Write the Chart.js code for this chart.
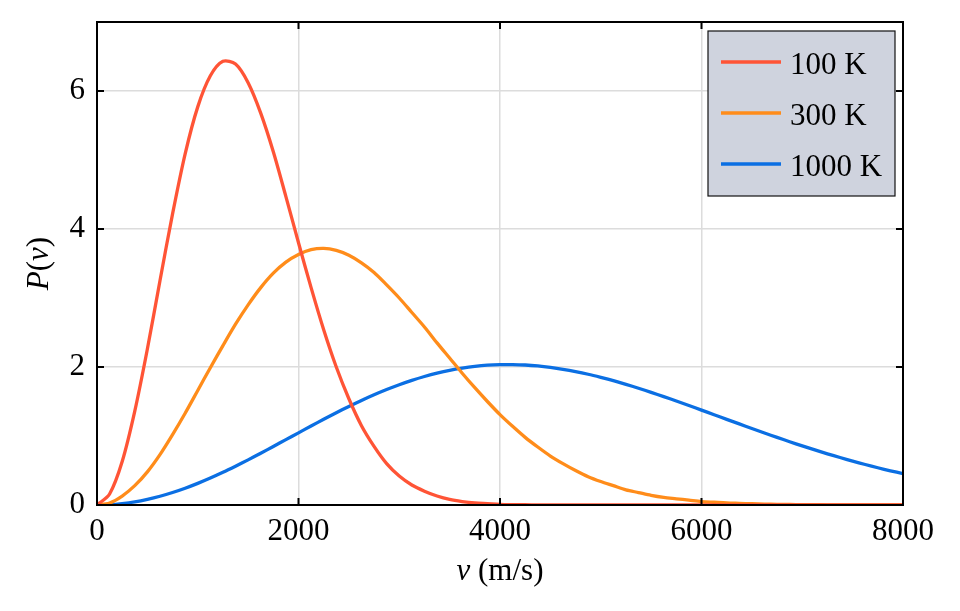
<!DOCTYPE html>
<html>
<head>
<meta charset="utf-8">
<script src="https://cdn.jsdelivr.net/npm/chart.js@4/dist/chart.umd.min.js"></script>
<style>
  html, body { margin: 0; padding: 0; background: #fff; }
  #wrap { width: 960px; height: 611px; }
</style>
</head>
<body>
<div id="wrap"><canvas id="mbChart" width="960" height="611"></canvas></div>
<script>
// speeds in m/s, P(v) (scale of the y axis)
const speeds = [0, 125, 250, 375, 500, 625, 750, 875, 1000, 1125, 1250, 1375, 1500, 1625, 1750, 1875,
    2000, 2125, 2250, 2375, 2500, 2625, 2750, 2875, 3000, 3125, 3250, 3375, 3500, 3625, 3750, 3875,
    4000, 4125, 4250, 4375, 4500, 4625, 4750, 4875, 5000, 5125, 5250, 5375, 5500, 5625, 5750, 5875,
    6000, 6125, 6250, 6375, 6500, 6625, 6750, 6875, 7000, 7125, 7250, 7375, 7500, 7625, 7750, 7875, 8000];
const p100 = [0, 0.16, 0.63, 1.36, 2.26, 3.25, 4.22, 5.09, 5.77, 6.22, 6.43, 6.39, 6.12, 5.68, 5.12, 4.47,
    3.80, 3.15, 2.54, 2.00, 1.54, 1.15, 0.85, 0.60, 0.42, 0.29, 0.20, 0.13, 0.08, 0.05, 0.03, 0.02,
    0.01, 0.006, 0.004, 0.002, 0.001, 0, 0, 0, 0, 0, 0, 0, 0, 0, 0, 0,
    0, 0, 0, 0, 0, 0, 0, 0, 0, 0, 0, 0, 0, 0, 0, 0, 0];
const p300 = [0, 0.03, 0.13, 0.28, 0.48, 0.73, 1.02, 1.33, 1.66, 1.99, 2.31, 2.62, 2.90, 3.15, 3.36, 3.52,
    3.63, 3.70, 3.72, 3.69, 3.62, 3.51, 3.37, 3.19, 3.00, 2.79, 2.58, 2.35, 2.13, 1.91, 1.70, 1.50,
    1.31, 1.14, 0.98, 0.84, 0.71, 0.60, 0.50, 0.41, 0.34, 0.28, 0.22, 0.18, 0.14, 0.11, 0.09, 0.07,
    0.05, 0.04, 0.03, 0.024, 0.018, 0.013, 0.010, 0.007, 0.005, 0.004, 0.003, 0.002, 0.001, 0.001, 0, 0, 0];
const p1000 = [0, 0.005, 0.021, 0.046, 0.082, 0.127, 0.181, 0.243, 0.313, 0.390, 0.473, 0.562, 0.654, 0.750, 0.848, 0.947,
    1.046, 1.145, 1.242, 1.337, 1.428, 1.515, 1.597, 1.673, 1.743, 1.806, 1.862, 1.911, 1.952, 1.984, 2.009, 2.026,
    2.034, 2.035, 2.029, 2.015, 1.994, 1.967, 1.934, 1.895, 1.850, 1.802, 1.749, 1.692, 1.633, 1.571, 1.507, 1.442,
    1.375, 1.309, 1.241, 1.175, 1.108, 1.043, 0.980, 0.917, 0.857, 0.798, 0.742, 0.688, 0.636, 0.587, 0.540, 0.496, 0.454];
const seriesLabels = ['100 K', '300 K', '1000 K'];
const seriesColors = ['#ff5436', '#ff8c1a', '#0b6fe3'];
const xTicks = [0, 2000, 4000, 6000, 8000];
const yTicks = [0, 2, 4, 6];

const FONT = '"Liberation Serif", "DejaVu Serif", serif';

function toPoints(ys) {
    return speeds.map((v, i) => ({ x: v, y: ys[i] }));
}

// draws mixed italic / upright text pieces one after another
function drawRich(ctx, parts, x, y, size) {
    let total = 0;
    parts.forEach(p => {
        ctx.font = (p.italic ? 'italic ' : '') + size + 'px ' + FONT;
        p.w = ctx.measureText(p.t).width;
        total += p.w;
    });
    let cx = x - total / 2;
    parts.forEach(p => {
        ctx.font = (p.italic ? 'italic ' : '') + size + 'px ' + FONT;
        ctx.fillText(p.t, cx, y);
        cx += p.w;
    });
}

const framePlugin = {
    id: 'frame',
    afterDatasetsDraw(chart) {
        const { ctx, chartArea: a, scales } = chart;
        ctx.save();
        ctx.strokeStyle = '#000';
        ctx.lineWidth = 2;
        ctx.strokeRect(a.left, a.top, a.right - a.left, a.bottom - a.top);
        // inward ticks on all four sides
        const len = 7;
        ctx.beginPath();
        xTicks.forEach(v => {
            const px = scales.x.getPixelForValue(v);
            ctx.moveTo(px, a.bottom); ctx.lineTo(px, a.bottom - len);
            ctx.moveTo(px, a.top); ctx.lineTo(px, a.top + len);
        });
        yTicks.forEach(v => {
            const py = scales.y.getPixelForValue(v);
            ctx.moveTo(a.left, py); ctx.lineTo(a.left + len, py);
            ctx.moveTo(a.right, py); ctx.lineTo(a.right - len, py);
        });
        ctx.stroke();

        // legend box
        const bx = 708, by = 31, bw = 187, bh = 165;
        ctx.fillStyle = '#cfd3de';
        ctx.fillRect(bx, by, bw, bh);
        ctx.lineWidth = 1.2;
        ctx.strokeStyle = '#111';
        ctx.strokeRect(bx, by, bw, bh);
        chart.data.datasets.forEach((ds, i) => {
            const ly = 62 + i * 51;
            ctx.strokeStyle = ds.borderColor;
            ctx.lineWidth = 3.5;
            ctx.beginPath();
            ctx.moveTo(721, ly); ctx.lineTo(781, ly);
            ctx.stroke();
            ctx.fillStyle = '#000';
            ctx.font = '31px ' + FONT;
            ctx.textBaseline = 'alphabetic';
            ctx.textAlign = 'left';
            ctx.fillText(ds.label, 790, ly + 12);
        });

        // axis titles
        ctx.fillStyle = '#000';
        ctx.textAlign = 'left';
        ctx.textBaseline = 'alphabetic';
        drawRich(ctx, [{ t: 'v', italic: true }, { t: ' (m/s)' }], (a.left + a.right) / 2, 580, 31);
        ctx.translate(48, (a.top + a.bottom) / 2);
        ctx.rotate(-Math.PI / 2);
        drawRich(ctx, [{ t: 'P', italic: true }, { t: '(' }, { t: 'v', italic: true }, { t: ')' }], 0, 0, 31);
        ctx.restore();
    }
};

const mbChart = new Chart(document.getElementById('mbChart').getContext('2d'), {
    type: 'line',
    data: {
        datasets: [p100, p300, p1000].map((ys, i) => ({
            label: seriesLabels[i],
            data: toPoints(ys),
            borderColor: seriesColors[i],
            borderWidth: 3.3,
            pointRadius: 0,
            fill: false,
            tension: 0.3
        }))
    },
    options: {
        responsive: false,
        animation: false,
        layout: { padding: { top: 22, right: 57, left: 0, bottom: 0 } },
        plugins: { legend: { display: false }, tooltip: { enabled: false } },
        scales: {
            x: {
                type: 'linear',
                min: 0,
                max: 8000,
                afterBuildTicks: s => { s.ticks = xTicks.map(v => ({ value: v })); },
                afterFit: s => { s.height = 106; },
                ticks: { color: '#000', font: { family: FONT, size: 31 }, padding: 8, maxRotation: 0,
                    callback: v => String(v) },
                grid: { color: '#dcdcdc', lineWidth: 1.5, drawTicks: false },
                border: { display: false }
            },
            y: {
                min: 0,
                max: 7,
                afterBuildTicks: s => { s.ticks = yTicks.map(v => ({ value: v })); },
                afterFit: s => { s.width = 97; s.paddingTop = 0; s.paddingBottom = 0; },
                ticks: { color: '#000', font: { family: FONT, size: 31 }, padding: 12,
                    callback: v => String(v) },
                grid: { color: '#dcdcdc', lineWidth: 1.5, drawTicks: false },
                border: { display: false }
            }
        }
    },
    plugins: [framePlugin]
});
</script>
</body>
</html>
